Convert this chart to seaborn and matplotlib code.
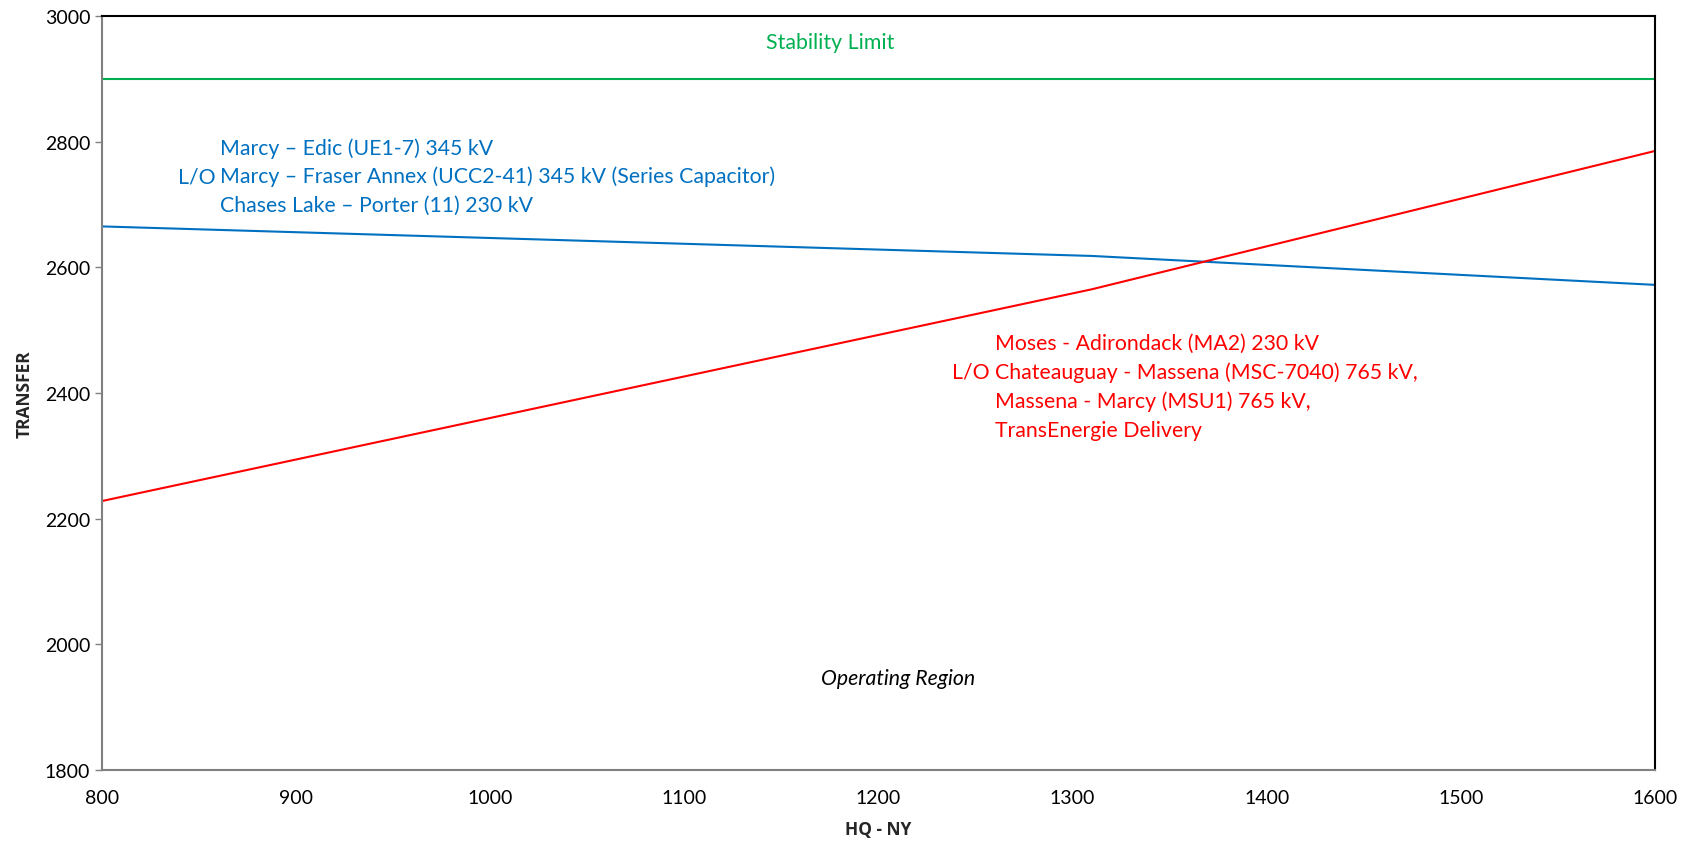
import pandas as pd
import matplotlib.pyplot as plt
import seaborn as sns

# ----------------------------
# Data
# ----------------------------
hq_ny = [800, 1310, 1600]
marcy_edic = [2665, 2618, 2572]
moses_adirondack = [2228, 2565, 2785]
stability = [2900, 2900, 2900]

df = pd.DataFrame({
    "HQ - NY": hq_ny * 3,
    "TRANSFER": marcy_edic + moses_adirondack + stability,
    "limit": ["blue"] * 3 + ["red"] * 3 + ["green"] * 3,
})

palette = {"blue": "#0070C0", "red": "#FF0000", "green": "#00B050"}

# ----------------------------
# General Settings
# ----------------------------
sns.set_style("white")
plt.rcParams["font.family"] = ["Lato", "DejaVu Sans"]

fig = plt.figure(figsize=(16.86, 8.45), dpi=100)
ax = fig.add_axes([0.0605, 0.0876, 0.921, 0.8924])

sns.lineplot(data=df, x="HQ - NY", y="TRANSFER", hue="limit",
             palette=palette, legend=False, linewidth=1.5, ax=ax)

ax.set_xlim(800, 1600)
ax.set_ylim(1800, 3000)
ax.set_xticks(range(800, 1601, 100))
ax.set_yticks(range(1800, 3001, 200))
ax.tick_params(axis="both", labelsize=14, colors="black")
ax.tick_params(axis="y", length=5, width=1, color="#808080", direction="out", left=True)
ax.tick_params(axis="x", length=0, pad=14)

for side in ["left", "bottom"]:
    ax.spines[side].set_color("#808080")
    ax.spines[side].set_linewidth(1.5)
for side in ["top", "right"]:
    ax.spines[side].set_color("black")
    ax.spines[side].set_linewidth(1.5)

ax.set_xlabel("HQ - NY", fontsize=12.5, fontweight="bold", family=["Open Sans", "DejaVu Sans"],
              labelpad=10)
ax.set_ylabel("TRANSFER", fontsize=12.5, fontweight="bold", family=["Open Sans", "DejaVu Sans"],
              labelpad=8)

# ----------------------------
# Annotations
# ----------------------------
blue = palette["blue"]
red = palette["red"]
fs = 15.3

ax.text(1175, 2958, "Stability Limit", color=palette["green"], fontsize=fs,
        ha="center", va="center")
ax.text(1210, 1947, "Operating Region", color="black", fontsize=fs,
        style="italic", ha="center", va="center")

ax.text(861, 2791, "Marcy \u2013 Edic (UE1-7) 345 kV", color=blue, fontsize=fs, va="center")
ax.text(839, 2745, "L/O", color=blue, fontsize=fs, va="center")
ax.text(861, 2745, "Marcy \u2013 Fraser Annex (UCC2-41) 345 kV (Series Capacitor)",
        color=blue, fontsize=fs, va="center")
ax.text(861, 2699, "Chases Lake \u2013 Porter (11) 230 kV", color=blue, fontsize=fs, va="center")

ax.text(1260, 2480, "Moses - Adirondack (MA2) 230 kV", color=red, fontsize=fs, va="center")
ax.text(1238, 2434, "L/O", color=red, fontsize=fs, va="center")
ax.text(1260, 2434, "Chateauguay - Massena (MSC-7040) 765 kV,", color=red, fontsize=fs, va="center")
ax.text(1260, 2387, "Massena - Marcy (MSU1) 765 kV,", color=red, fontsize=fs, va="center")
ax.text(1260, 2341, "TransEnergie Delivery", color=red, fontsize=fs, va="center")

plt.savefig("out.png", dpi=100)
